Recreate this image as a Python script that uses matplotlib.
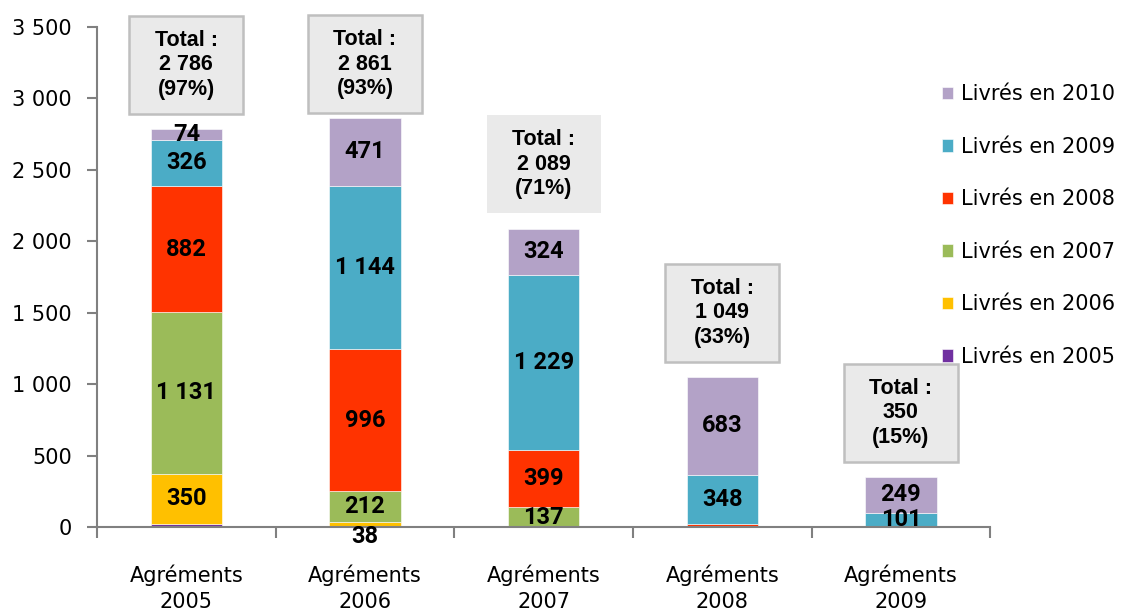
import matplotlib
matplotlib.use('Agg')
import numpy as np
from matplotlib import pyplot as plt
from matplotlib.patches import Rectangle

# data
categories = ['Agréments\n2005', 'Agréments\n2006', 'Agréments\n2007',
              'Agréments\n2008', 'Agréments\n2009']
series_names = ['Livrés en 2005', 'Livrés en 2006', 'Livrés en 2007',
                'Livrés en 2008', 'Livrés en 2009', 'Livrés en 2010']
livres_2005 = [23, 0, 0, 0, 0]
livres_2006 = [350, 38, 0, 0, 0]
livres_2007 = [1131, 212, 137, 0, 0]
livres_2008 = [882, 996, 399, 18, 0]
livres_2009 = [326, 1144, 1229, 348, 101]
livres_2010 = [74, 471, 324, 683, 249]
totals = [2786, 2861, 2089, 1049, 350]
total_labels = ['2 786', '2 861', '2 089', '1 049', '350']
percents = ['97%', '93%', '71%', '33%', '15%']
yticks = [0, 500, 1000, 1500, 2000, 2500, 3000, 3500]
ytick_labels = ['0', '500', '1 000', '1 500', '2 000', '2 500', '3 000', '3 500']

colors = ['#7030A0', '#FFC000', '#9BBB59', '#FF3300', '#4BACC6', '#B3A2C7']
series = [livres_2005, livres_2006, livres_2007, livres_2008, livres_2009,
          livres_2010]


def fmt(v):
    return '{:,}'.format(v).replace(',', ' ')


fig = plt.figure(figsize=(11.24, 6.12), dpi=100)
ax = fig.add_axes([0.0863, 0.139, 0.7947, 0.817])
x = np.arange(len(categories))
bottom = np.zeros(len(categories))
handles = []
for vals, col, name in zip(series, colors, series_names):
    vals = np.array(vals, dtype=float)
    h = ax.bar(x, vals, 0.4, bottom=bottom, color=col, label=name,
               edgecolor='white', linewidth=0.4)
    handles.append(h)
    for xi, v, b in zip(x, vals, bottom):
        if v >= 30:
            # the tiny segment label sits just under the axis
            off = -9 if v < 60 and b < 10 else 0
            ax.annotate(fmt(int(v)), (xi, b + v / 2), xytext=(0, off),
                        textcoords='offset points', ha='center', va='center',
                        fontsize=17, fontweight='bold', family='Roboto')
    bottom += vals

# total boxes: fixed size grey boxes above each bar
box_w, box_h = 0.637, 686
for xi, t, tl, p in zip(x, totals, total_labels, percents):
    yc = min(t + 450, 3240)
    edge = 'none' if xi == 2 else '#BFBFBF'
    ax.add_patch(Rectangle((xi - box_w / 2, yc - box_h / 2), box_w, box_h,
                           facecolor='#EAEAEA', edgecolor=edge,
                           linewidth=1.8, clip_on=False, zorder=3))
    ax.text(xi, yc, 'Total :\n{}\n({})'.format(tl, p), ha='center',
            va='center', fontsize=15.5, fontweight='bold',
            family='Liberation Sans', linespacing=1.22, zorder=4)

ax.set_xlim(-0.5, len(categories) - 0.5)
ax.set_ylim(0, 3500)
ax.set_yticks(yticks)
ax.set_yticklabels(ytick_labels, fontsize=15, family='DejaVu Sans')
ax.set_xticks(x)
ax.set_xticklabels(categories, fontsize=15, family='DejaVu Sans',
                   linespacing=1.35)
ax.set_xticks(np.arange(len(categories) + 1) - 0.5, minor=True)
ax.tick_params(axis='x', which='major', length=0, pad=27)
ax.tick_params(axis='x', which='minor', length=8, width=1.5, color='#808080',
               direction='out')
ax.tick_params(axis='y', length=7, width=1.5, color='#808080', pad=11)
for s in ['top', 'right']:
    ax.spines[s].set_visible(False)
for s in ['left', 'bottom']:
    ax.spines[s].set_color('#808080')
    ax.spines[s].set_linewidth(1.5)

leg = fig.legend(handles[::-1], series_names[::-1], loc='upper left',
                 bbox_to_anchor=(0.821, 0.893), frameon=False,
                 prop={'family': 'DejaVu Sans', 'size': 15},
                 handlelength=0.55, handleheight=0.55, handletextpad=0.4,
                 labelspacing=1.56)

fig.savefig('out.png', dpi=100)
